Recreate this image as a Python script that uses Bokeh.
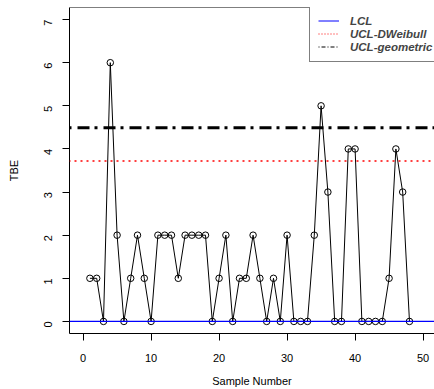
import math
from bokeh.plotting import figure
from bokeh.models import Range1d, FixedTicker, Span, Legend, LegendItem
from bokeh.embed import file_html
from bokeh.resources import INLINE

# ---- data ----
sample_number = list(range(1, 49))
tbe = [1, 1, 0, 6, 2, 0, 1, 2, 1, 0,
       2, 2, 2, 1, 2, 2, 2, 2, 0, 1,
       2, 0, 1, 1, 2, 1, 0, 1, 0, 2,
       0, 0, 0, 2, 5, 3, 0, 0, 4, 4,
       0, 0, 0, 0, 1, 4, 3, 0]
lcl = 0.0
ucl_dweibull = 3.72
ucl_geometric = 4.49
x_ticks = [0, 10, 20, 30, 40, 50]
y_ticks = [0, 1, 2, 3, 4, 5, 6, 7]
legend_labels = ["LCL", "UCL-DWeibull", "UCL-geometric"]

FONT = "Liberation Sans"

p = figure(width=434, height=389, output_backend="svg", toolbar_location=None,
           x_range=Range1d(-2.0, 51.68), y_range=Range1d(-0.28, 7.28),
           min_border_left=69, min_border_right=0, min_border_top=7,
           min_border_bottom=56)
p.outline_line_color = None
p.xgrid.visible = False
p.ygrid.visible = False
p.background_fill_color = "white"
p.border_fill_color = "white"

for ax in (p.xaxis[0], p.yaxis[0]):
    ax.axis_line_color = "black"
    ax.major_tick_line_color = "black"
    ax.minor_tick_line_color = None
    ax.major_tick_out = 7
    ax.major_tick_in = 0
    ax.major_label_text_font = FONT
    ax.major_label_text_font_size = "11px"
    ax.major_label_text_color = "black"
    ax.axis_label_text_font = FONT
    ax.axis_label_text_font_size = "11px"
    ax.axis_label_text_font_style = "normal"
    ax.axis_label_text_color = "black"

p.xaxis.ticker = FixedTicker(ticks=x_ticks)
p.yaxis.ticker = FixedTicker(ticks=y_ticks)
p.xaxis.axis_label = "Sample Number"
p.yaxis.axis_label = "TBE"
p.xaxis.major_label_standoff = 13
p.xaxis.axis_label_standoff = 10
p.yaxis.major_label_standoff = 14
p.yaxis.major_label_orientation = math.pi / 2
p.yaxis.axis_label_standoff = 18

# top border of the box
p.add_layout(Span(location=7.28, dimension="width", line_color="black", line_width=1))

# series
p.line(sample_number, tbe, line_color="black", line_width=1)
p.scatter(sample_number, tbe, marker="circle", size=6.5, fill_color=None,
          line_color="black", line_width=1)

# control limits
p.add_layout(Span(location=ucl_dweibull, dimension="width", line_color="#FF0000",
                  line_width=1.5, line_dash="2 4", line_dash_offset=1))
p.add_layout(Span(location=ucl_geometric, dimension="width", line_color="black",
                  line_width=3, line_dash="12 5 3 6", line_dash_offset=18))
p.add_layout(Span(location=lcl, dimension="width", line_color="blue", line_width=1.2))

# legend entries (thin legend glyphs; single-point lines draw nothing in the plot)
r1 = p.line(x=[sample_number[0]], y=[lcl], line_color="blue", line_width=1)
r2 = p.line(x=[sample_number[0]], y=[ucl_dweibull], line_color="#FF0000", line_width=1,
            line_dash="1 2")
r3 = p.line(x=[sample_number[0]], y=[ucl_geometric], line_color="black", line_width=1,
            line_dash="1 2 4 2")

legend = Legend(items=[LegendItem(label=legend_labels[0], renderers=[r1]),
                       LegendItem(label=legend_labels[1], renderers=[r2]),
                       LegendItem(label=legend_labels[2], renderers=[r3])],
                location=(240, 271), margin=0, padding=8, spacing=0,
                label_height=13, glyph_height=13, glyph_width=21,
                label_standoff=11, label_width=100, label_text_font=FONT,
                label_text_font_size="11.5px", label_text_font_style="bold italic",
                border_line_color="black", border_line_width=1,
                background_fill_color="white", background_fill_alpha=1.0)
p.add_layout(legend)

open("out.html", "w").write(file_html(p, INLINE))
